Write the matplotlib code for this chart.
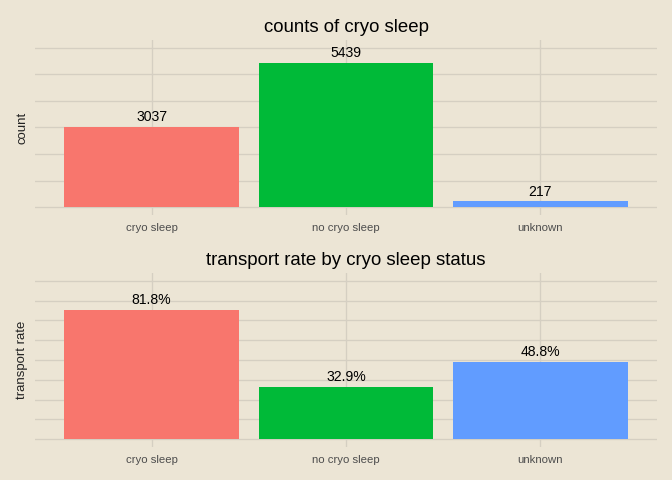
import matplotlib.pyplot as plt
import numpy as np

categories = ["cryo sleep", "no cryo sleep", "unknown"]
counts = [3037, 5439, 217]
transport_rate = [0.818, 0.329, 0.488]
bar_colors = ["#F8766D", "#00BA38", "#619CFF"]

BG = "#ECE5D5"
GRID = "#D5CFC2"
FONT = "Liberation Sans"

plt.rcParams['font.family'] = [FONT, 'DejaVu Sans']

fig = plt.figure(figsize=(7, 5), dpi=96, facecolor=BG)
ax_top = fig.add_axes([0.0521, 0.5521, 0.9256, 0.3646])
ax_bot = fig.add_axes([0.0521, 0.06875, 0.9256, 0.3625])


def style_axes(ax, title, ylabel, yticks, ylim):
    ax.set_facecolor(BG)
    for s in ax.spines.values():
        s.set_visible(False)
    ax.set_xlim(-0.6, len(categories) - 0.4)
    ax.set_ylim(*ylim)
    ax.set_yticks(yticks)
    ax.set_yticklabels([])
    ax.set_xticks(range(len(categories)))
    ax.set_xticklabels(categories, fontsize=8.5, color="#4D4D4D")
    ax.tick_params(axis="x", length=0, pad=6)
    ax.tick_params(axis="y", length=0, pad=0)
    ax.grid(True, color=GRID, linewidth=1)
    ax.set_axisbelow(True)
    ax.set_title(title, fontsize=14, pad=6)
    ax.set_ylabel(ylabel, fontsize=9.8, color="#222222", labelpad=5)


x = np.arange(len(categories))

style_axes(ax_top, "counts of cryo sleep", "count",
           np.arange(0, 6001, 1000), (-300, 6300))
ax_top.bar(x, counts, width=0.9, color=bar_colors)
for xi, v in zip(x, counts):
    ax_top.annotate(str(v), (xi, v), xytext=(0, 2), textcoords="offset points",
                    ha="center", va="bottom", fontsize=10.5)

style_axes(ax_bot, "transport rate by cryo sleep status", "transport rate",
           np.arange(0, 1.001, 0.125), (-0.05, 1.05))
ax_bot.bar(x, transport_rate, width=0.9, color=bar_colors)
for xi, v in zip(x, transport_rate):
    ax_bot.annotate(f"{v * 100:.1f}%", (xi, v), xytext=(0, 2), textcoords="offset points",
                    ha="center", va="bottom", fontsize=10.5)

fig.savefig("out.png", dpi=96, facecolor=BG)
